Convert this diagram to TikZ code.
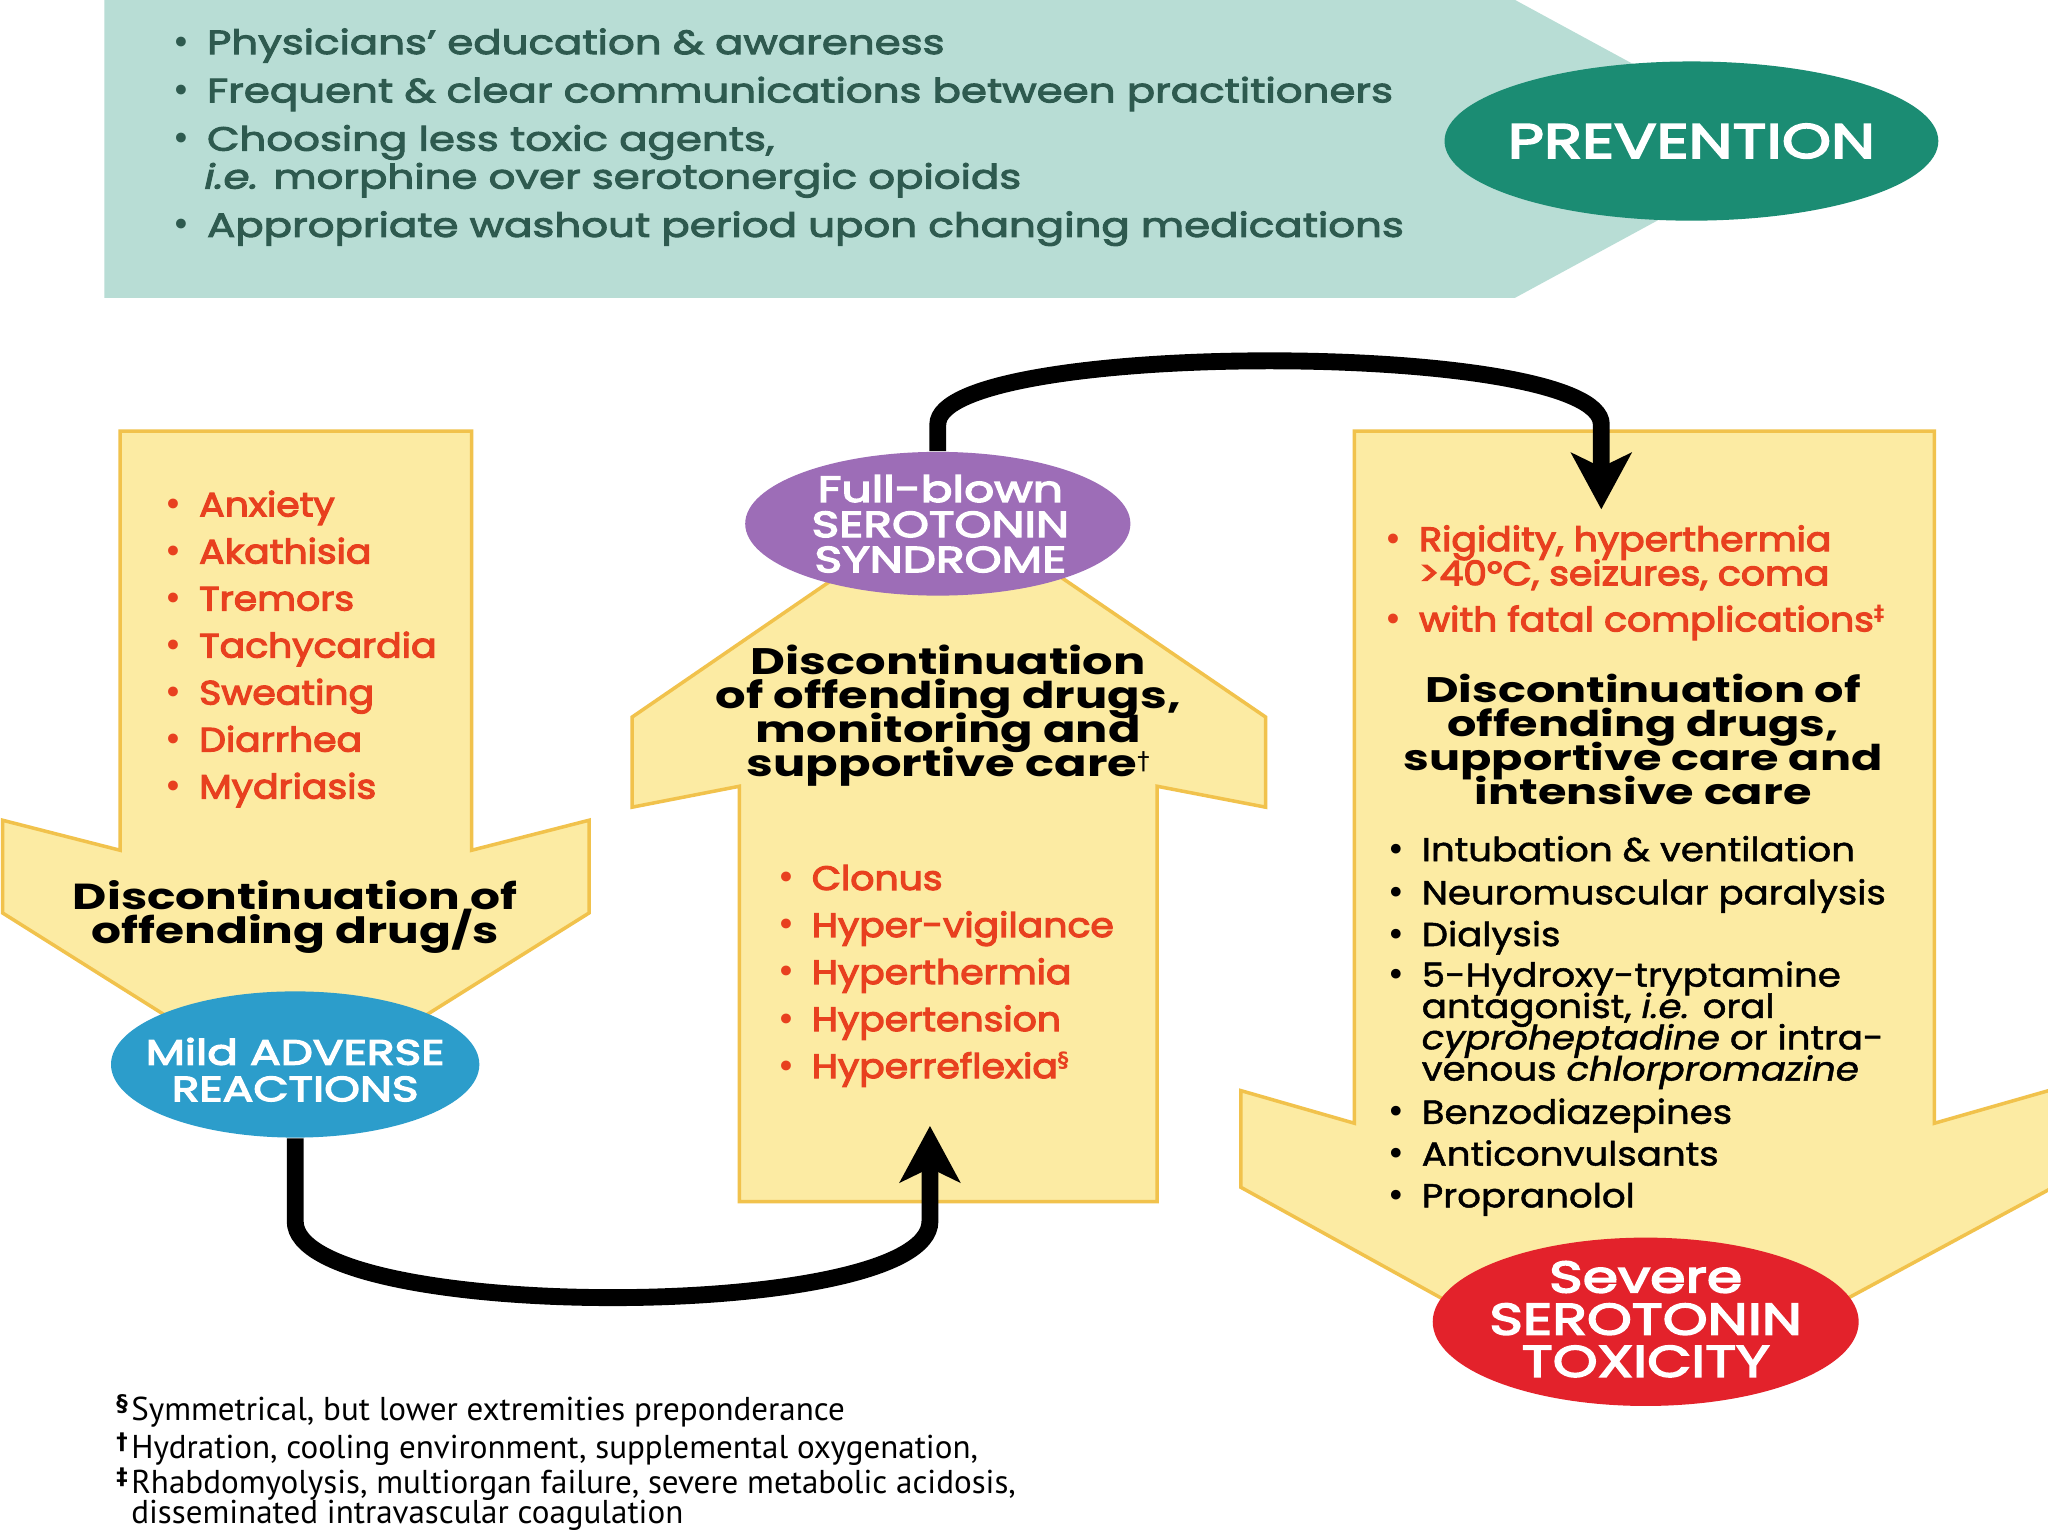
\documentclass[tikz,border=0pt]{standalone}
\usepackage{fontspec}
\setmainfont{Poppins}
\newfontfamily\ftop{Poppins}[FakeStretch=1.25,FakeBold=3]
\newfontfamily\flist{Poppins}[FakeStretch=1.12,FakeBold=1.5]
\newfontfamily\fredf{Poppins}[FakeStretch=1.12,FakeBold=3.5]
\newfontfamily\fhead{Poppins}[FakeStretch=1.3]
\newfontfamily\fell{Poppins}[FakeStretch=1.3,FakeBold=4]
\newfontfamily\fnote{PT Sans}
\newfontfamily\fsym{DejaVu Sans}
\usetikzlibrary{arrows.meta,shapes.geometric}
\definecolor{tealbg}{HTML}{B8DDD5}
\definecolor{tealtx}{HTML}{2E5A4F}
\definecolor{tealdk}{HTML}{1B8C73}
\definecolor{ylw}{HTML}{FCEBA3}
\definecolor{ylwb}{HTML}{F1C24C}
\definecolor{redtx}{HTML}{E8401F}
\definecolor{blu}{HTML}{2C9DCB}
\definecolor{pur}{HTML}{9D6DB7}
\definecolor{redel}{HTML}{E3222B}
\newcommand\bu[1]{\llap{{\fsym •}\hspace{#1}}}
\newcommand\supsym[1]{\raisebox{3pt}{\fsym\bfseries\fontsize{6}{6}\selectfont #1}}
\newcommand\fnmark[1]{\llap{\raisebox{2.5pt}{\fsym\bfseries\fontsize{6.5}{6.5}\selectfont #1}\hspace{1pt}}}
\newcommand\tightlines{\lineskiplimit=-20pt\lineskip=0pt}
\tikzset{
  yarrow/.style={fill=ylw, draw=ylwb, line width=1pt, line join=miter},
  ell/.style={ellipse, inner sep=0pt, draw=none},
  elltxt/.style={inner sep=0pt, text=white, align=center},
  conn/.style={line width=4.8pt, -{Stealth[length=16pt,width=17pt,inset=4pt]}},
  topl/.style={anchor=mid west, inner sep=0pt, text=tealtx, font=\ftop\fontsize{9.55}{12}\selectfont},
  redl/.style={anchor=mid west, inner sep=0pt, text=redtx, font={\fredf\fontsize{9.6}{9.7}\selectfont\tightlines}},
  blkl/.style={anchor=mid west, inner sep=0pt, text=black, font={\flist\fontsize{9.45}{8.9}\selectfont\tightlines}},
  hd/.style={anchor=center, inner sep=0pt, text=black, align=center},
  fn/.style={anchor=mid west, inner sep=0pt, text=black, font={\fnote\fontsize{9.4}{8.6}\selectfont\tightlines}}
}
\begin{document}
\begin{tikzpicture}[x=0.0130612cm, y=-0.0130612cm]
\useasboundingbox (0,0) rectangle (1568,1176);
\fill[white] (0,0) rectangle (1568,1176);

% prevention banner
\fill[tealbg] (80,0) -- (1160,0) -- (1370,114) -- (1160,228) -- (80,228) -- cycle;

% yellow arrows
\draw[yarrow] (92,330) -- (361,330) -- (361,651) -- (451,628) -- (451,699) -- (226,840) -- (2,699) -- (2,628) -- (92,651) -- cycle;
\draw[yarrow] (566,920) -- (566,602) -- (484,618) -- (484,549) -- (726,383) -- (969,549) -- (969,618) -- (886,602) -- (886,920) -- cycle;
\draw[yarrow] (1037,330) -- (1481,330) -- (1481,860) -- (1572,834) -- (1572,909) -- (1398,1003) -- (1120,1003) -- (950,909) -- (950,835) -- (1037,860) -- cycle;

% ellipses (shapes)
\node[ell, fill=tealdk, minimum width=140.5pt, minimum height=45.3pt] (prev) at (1295,108) {};
\node[ell, fill=blu, minimum width=104.8pt, minimum height=41.6pt] (mild) at (226,815) {};
\node[ell, fill=pur, minimum width=109.6pt, minimum height=40.9pt] (full) at (718,401) {};
\node[ell, fill=redel, minimum width=121.2pt, minimum height=47.9pt] (sev) at (1260,1012) {};

% connectors
\coordinate (tipA) at (712,862);
\coordinate (tipB) at (1226,390);
\draw[conn] (mild.south) -- (226,935) .. controls (226,1013) and (712,1013) .. (712,935) -- (tipA);
\draw[conn] (full.north) -- (718,325) .. controls (718,260) and (1226,260) .. (1226,325) -- (tipB);

% ellipse labels
\node[elltxt, font={\fell\fontsize{13.7}{14}\selectfont}] (prevT) at (prev) {PREVENTION};
\node[elltxt, font={\fell\fontsize{9.95}{10.4}\selectfont\tightlines}] (mildT) at (226,819) {Mild ADVERSE\\REACTIONS};
\node[elltxt, font={\fell\fontsize{10.3}{10}\selectfont\tightlines}] (fullT) at (720,401) {Full-blown\\SEROTONIN\\SYNDROME};
\node[elltxt, font={\fell\fontsize{12.5}{12}\selectfont\tightlines}] (sevT) at (1260,1010) {Severe\\SEROTONIN\\TOXICITY};

% top banner text
\node[topl] (t1) at (158,34) {\bu{4.5pt}Physicians’ education \& awareness};
\node[topl] (t2) at (158,71) {\bu{4.5pt}Frequent \& clear communications between practitioners};
\node[topl] (t3) at (158,108) {\bu{4.5pt}Choosing less toxic agents,};
\node[topl] (t4) at (156,137) {\textit{i.e.} morphine over serotonergic opioids};
\node[topl] (t5) at (158,174) {\bu{4.5pt}Appropriate washout period upon changing medications};

% left arrow
\foreach \t [count=\i, evaluate=\i as \yy using 352+36*\i] in {Anxiety, Akathisia, Tremors, Tachycardia, Sweating, Diarrhea, Mydriasis}
  \node[redl] (ra\i) at (152,\yy) {\bu{4.4pt}\t};
\node[hd, font={\fhead\bfseries\fontsize{10.3}{9.5}\selectfont\tightlines}] (h1) at (226,702) {Discontinuation of\\offending drug/s};

% middle arrow
\node[hd, font={\fhead\bfseries\fontsize{10.5}{9.7}\selectfont\tightlines}] (h2) at (726,548) {Discontinuation\\of offending drugs,\\monitoring and\\supportive care{\fsym\mdseries\fontsize{7}{7}\selectfont\raisebox{2pt}{†}}};
\foreach \t [count=\i, evaluate=\i as \yy using 638+36*\i] in {Clonus, Hyper-vigilance, Hyperthermia, Hypertension, Hyperreflexia\supsym{§}}
  \node[redl] (rm\i) at (621,\yy) {\bu{4.4pt}\t};

% right arrow
\node[redl, anchor=west, align=left] (rr1) at (1086,427) {\bu{4.4pt}Rigidity, hyperthermia\\>40°C, seizures, coma};
\node[redl] (rr3) at (1086,476) {\bu{4.4pt}with fatal complications\supsym{‡}};
\node[hd, font={\fhead\bfseries\fontsize{10.1}{9.7}\selectfont\tightlines}] (h3) at (1258,566) {Discontinuation of\\offending drugs,\\supportive care and\\intensive care};
\node[blkl] (rb1) at (1088,652) {\bu{4.4pt}Intubation \& ventilation};
\node[blkl] (rb2) at (1088,685) {\bu{4.4pt}Neuromuscular paralysis};
\node[blkl] (rb3) at (1088,717) {\bu{4.4pt}Dialysis};
\node[blkl, anchor=west, align=left] (rb4) at (1088,785) {\bu{4.4pt}5-Hydroxy-tryptamine\\antagonist, \textit{i.e.} oral\\\textit{cyproheptadine} or intra-\\venous \textit{chlorpromazine}};
\node[blkl] (rb5) at (1088,853) {\bu{4.4pt}Benzodiazepines};
\node[blkl] (rb6) at (1088,885) {\bu{4.4pt}Anticonvulsants};
\node[blkl] (rb7) at (1088,917) {\bu{4.4pt}Propranolol};

% footnotes
\node[fn] (fn1) at (100,1080) {\fnmark{§}Symmetrical, but lower extremities preponderance};
\node[fn] (fn2) at (100,1109) {\fnmark{†}Hydration, cooling environment, supplemental oxygenation,};
\node[fn, anchor=west, align=left] (fn3) at (100,1148) {\fnmark{‡}Rhabdomyolysis, multiorgan failure, severe metabolic acidosis,\\disseminated intravascular coagulation};
\end{tikzpicture}
\end{document}
